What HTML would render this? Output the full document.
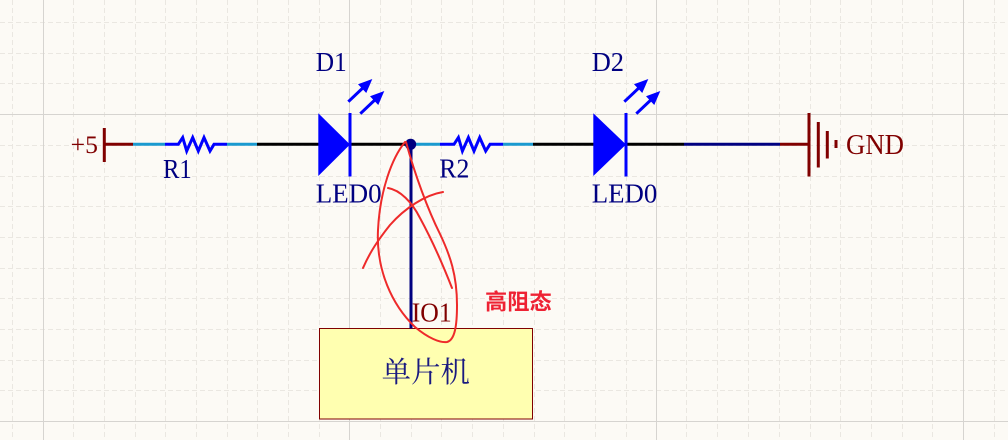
<!DOCTYPE html>
<html><head><meta charset="utf-8"><style>
html,body{margin:0;padding:0;background:#fcfaf5;}
svg{display:block;}
</style></head><body>
<svg width="1008" height="440" viewBox="0 0 1008 440" xmlns="http://www.w3.org/2000/svg">
<rect width="1008" height="440" fill="#fcfaf5"/>
<g stroke="#eae7e1" stroke-width="1" stroke-dasharray="5 3" shape-rendering="crispEdges">
<line x1="12.5" y1="0" x2="12.5" y2="440"/><line x1="73.5" y1="0" x2="73.5" y2="440"/><line x1="104.5" y1="0" x2="104.5" y2="440"/><line x1="135.5" y1="0" x2="135.5" y2="440"/><line x1="165.5" y1="0" x2="165.5" y2="440"/><line x1="196.5" y1="0" x2="196.5" y2="440"/><line x1="227.5" y1="0" x2="227.5" y2="440"/><line x1="257.5" y1="0" x2="257.5" y2="440"/><line x1="288.5" y1="0" x2="288.5" y2="440"/><line x1="319.5" y1="0" x2="319.5" y2="440"/><line x1="380.5" y1="0" x2="380.5" y2="440"/><line x1="411.5" y1="0" x2="411.5" y2="440"/><line x1="441.5" y1="0" x2="441.5" y2="440"/><line x1="472.5" y1="0" x2="472.5" y2="440"/><line x1="503.5" y1="0" x2="503.5" y2="440"/><line x1="534.5" y1="0" x2="534.5" y2="440"/><line x1="564.5" y1="0" x2="564.5" y2="440"/><line x1="595.5" y1="0" x2="595.5" y2="440"/><line x1="626.5" y1="0" x2="626.5" y2="440"/><line x1="686.5" y1="0" x2="686.5" y2="440"/><line x1="717.5" y1="0" x2="717.5" y2="440"/><line x1="748.5" y1="0" x2="748.5" y2="440"/><line x1="779.5" y1="0" x2="779.5" y2="440"/><line x1="810.5" y1="0" x2="810.5" y2="440"/><line x1="840.5" y1="0" x2="840.5" y2="440"/><line x1="871.5" y1="0" x2="871.5" y2="440"/><line x1="902.5" y1="0" x2="902.5" y2="440"/><line x1="932.5" y1="0" x2="932.5" y2="440"/><line x1="994.5" y1="0" x2="994.5" y2="440"/>
<line x1="0" y1="22.5" x2="1008" y2="22.5"/><line x1="0" y1="53.5" x2="1008" y2="53.5"/><line x1="0" y1="83.5" x2="1008" y2="83.5"/><line x1="0" y1="145.5" x2="1008" y2="145.5"/><line x1="0" y1="176.5" x2="1008" y2="176.5"/><line x1="0" y1="206.5" x2="1008" y2="206.5"/><line x1="0" y1="237.5" x2="1008" y2="237.5"/><line x1="0" y1="268.5" x2="1008" y2="268.5"/><line x1="0" y1="298.5" x2="1008" y2="298.5"/><line x1="0" y1="329.5" x2="1008" y2="329.5"/><line x1="0" y1="360.5" x2="1008" y2="360.5"/><line x1="0" y1="390.5" x2="1008" y2="390.5"/>
</g>
<g stroke="#d6d4d0" stroke-width="1.2" shape-rendering="crispEdges">
<line x1="43.5" y1="0" x2="43.5" y2="440"/><line x1="349.5" y1="0" x2="349.5" y2="440"/><line x1="656.5" y1="0" x2="656.5" y2="440"/><line x1="963.5" y1="0" x2="963.5" y2="440"/>
<line x1="0" y1="114.5" x2="1008" y2="114.5"/><line x1="0" y1="421.5" x2="1008" y2="421.5"/>
</g>

<!-- MCU box -->
<rect x="319.5" y="328.5" width="213" height="90.5" fill="#ffffb0" stroke="#800000" stroke-width="1"/>

<!-- wires -->
<g stroke-width="3" fill="none">
<line x1="104" y1="144.3" x2="133" y2="144.3" stroke="#800000"/>
<line x1="104.3" y1="128" x2="104.3" y2="162" stroke="#800000"/>
<line x1="133" y1="144.3" x2="165" y2="144.3" stroke="#1a9ad0"/>
<polyline points="165,144.3 178.3,144.3 182.7,137.5 186.7,151 192.7,137.5 198.3,151 204,137.5 210,151 214,144.3 227,144.3" stroke="#0000ff" stroke-linejoin="miter"/>
<line x1="227" y1="144.3" x2="257" y2="144.3" stroke="#1a9ad0"/>
<line x1="257" y1="144.3" x2="319" y2="144.3" stroke="#000"/>
<line x1="350" y1="144.3" x2="411" y2="144.3" stroke="#000"/>
<line x1="411" y1="144.3" x2="440" y2="144.3" stroke="#1a9ad0"/>
<polyline points="440,144.3 454,144.3 458.4,137.5 462.4,151 468.4,137.5 474,151 479.7,137.5 485.7,151 490,144.3 503,144.3" stroke="#0000ff"/>
<line x1="503" y1="144.3" x2="533" y2="144.3" stroke="#1a9ad0"/>
<line x1="533" y1="144.3" x2="594" y2="144.3" stroke="#000"/>
<line x1="626" y1="144.3" x2="684" y2="144.3" stroke="#000"/>
<line x1="684" y1="144.3" x2="780" y2="144.3" stroke="#000080"/>
<line x1="780" y1="144.3" x2="809" y2="144.3" stroke="#800000"/>
<line x1="809" y1="113" x2="809" y2="176.5" stroke="#800000"/>
<line x1="818.3" y1="122" x2="818.3" y2="167.5" stroke="#800000"/>
<line x1="827.3" y1="131" x2="827.3" y2="158.5" stroke="#800000"/>
<line x1="836" y1="140" x2="836" y2="148" stroke="#800000"/>
<line x1="411" y1="144" x2="411" y2="328.5" stroke="#000080"/>
</g>
<circle cx="410.6" cy="144.3" r="5.6" fill="#000080"/>

<!-- LEDs -->
<g>
<polygon points="318.3,113.3 318.3,176 350,144.5" fill="#0000ff"/>
<line x1="350" y1="113" x2="350" y2="176.5" stroke="#0000ff" stroke-width="3"/>
<g transform="translate(372.3,79) rotate(-43.4)">
<line x1="-33" y1="0" x2="-10" y2="0" stroke="#0000ff" stroke-width="3"/>
<polygon points="0,0 -14,-6 -14,6" fill="#0000ff"/>
</g>
<g transform="translate(384.3,91) rotate(-43.4)">
<line x1="-33" y1="0" x2="-10" y2="0" stroke="#0000ff" stroke-width="3"/>
<polygon points="0,0 -14,-6 -14,6" fill="#0000ff"/>
</g>
</g>
<g transform="translate(276,0)">
<polygon points="317.3,113.3 317.3,176 350,144.5" fill="#0000ff"/>
<line x1="350" y1="113" x2="350" y2="176.5" stroke="#0000ff" stroke-width="3"/>
<g transform="translate(372.3,79) rotate(-43.4)">
<line x1="-33" y1="0" x2="-10" y2="0" stroke="#0000ff" stroke-width="3"/>
<polygon points="0,0 -14,-6 -14,6" fill="#0000ff"/>
</g>
<g transform="translate(384.3,91) rotate(-43.4)">
<line x1="-33" y1="0" x2="-10" y2="0" stroke="#0000ff" stroke-width="3"/>
<polygon points="0,0 -14,-6 -14,6" fill="#0000ff"/>
</g>
</g>

<!-- labels -->
<g font-family="'Liberation Serif', serif">
<text x="70.7" y="153" font-size="25" fill="#800000" textLength="27.3" lengthAdjust="spacingAndGlyphs">+5</text>
<text x="163" y="178" font-size="27" fill="#000080" textLength="28.7" lengthAdjust="spacingAndGlyphs">R1</text>
<text x="315.7" y="71" font-size="27" fill="#000080" textLength="31" lengthAdjust="spacingAndGlyphs">D1</text>
<text x="315.7" y="202.3" font-size="27" fill="#000080" textLength="66" lengthAdjust="spacingAndGlyphs">LED0</text>
<text x="439.3" y="177.7" font-size="27" fill="#000080" textLength="30" lengthAdjust="spacingAndGlyphs">R2</text>
<text x="591.7" y="71" font-size="27" fill="#000080" textLength="32.3" lengthAdjust="spacingAndGlyphs">D2</text>
<text x="591.7" y="202.7" font-size="27" fill="#000080" textLength="65.6" lengthAdjust="spacingAndGlyphs">LED0</text>
<text x="846" y="154" font-size="28" fill="#800000" textLength="58" lengthAdjust="spacingAndGlyphs">GND</text>
<text x="411.7" y="321.7" font-size="27" fill="#800000" textLength="40" lengthAdjust="spacingAndGlyphs">IO1</text>
</g>
<text x="381.7" y="382" font-size="29" fill="#1a1a80" font-family="'Liberation Serif','Noto Serif CJK SC',serif" textLength="88.3" lengthAdjust="spacingAndGlyphs">单片机</text>
<text x="485" y="309.5" font-size="22" font-weight="bold" fill="#ee2233" font-family="'Liberation Sans','Noto Sans CJK SC',sans-serif" textLength="66.7" lengthAdjust="spacingAndGlyphs">高阻态</text>

<!-- red hand-drawn marks -->
<g fill="none" stroke="#ee2a2a" stroke-width="2" stroke-linecap="round">
<path d="M405,142 C392,158 380,190 378,230 C376,270 392,305 415,327 C428,338 440,343 447,342 C455,340 457,325 457,305 C457,275 450,255 440,234 C428,210 415,175 406,142"/>
<path d="M388,188 C400,190 412,202 420,218 C432,240 443,265 452,288"/>
<path d="M443,192 C425,195 405,208 390,225 C378,240 370,252 363,268"/>
</g>
</svg>
</body></html>
